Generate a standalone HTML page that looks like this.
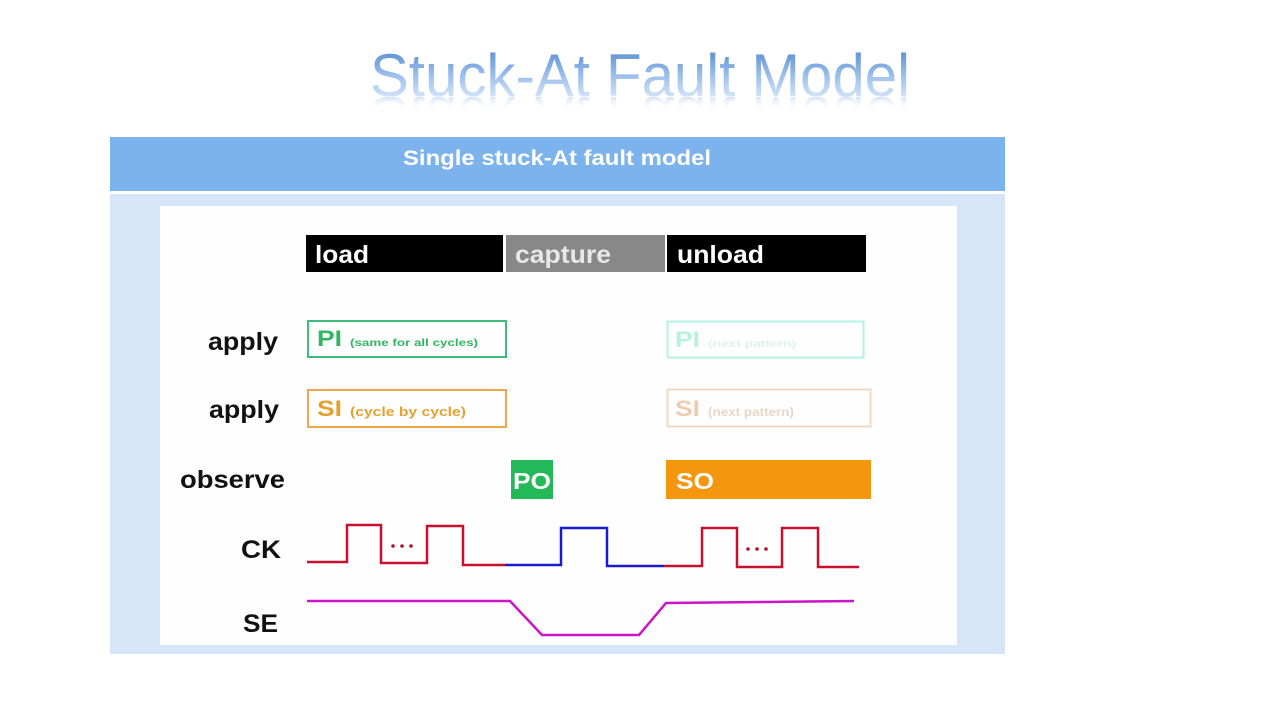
<!DOCTYPE html>
<html>
<head>
<meta charset="utf-8">
<style>
  html, body { margin: 0; padding: 0; background: #ffffff; }
  body { width: 1280px; height: 720px; overflow: hidden; }
  svg { display: block; }
  text { font-family: "Liberation Sans", Arial, sans-serif; }
</style>
</head>
<body>
<svg width="1280" height="720" viewBox="0 0 1280 720" xmlns="http://www.w3.org/2000/svg">
  <defs>
    <linearGradient id="tg" x1="0" y1="50" x2="0" y2="97" gradientUnits="userSpaceOnUse">
      <stop offset="0" stop-color="#5b8fd4"/>
      <stop offset="0.55" stop-color="#9dc0ec"/>
      <stop offset="1" stop-color="#d2e3f7"/>
    </linearGradient>
    <linearGradient id="rg" x1="0" y1="96" x2="0" y2="82" gradientUnits="userSpaceOnUse">
      <stop offset="0" stop-color="#c9dcf3" stop-opacity="0.75"/>
      <stop offset="1" stop-color="#ffffff" stop-opacity="0"/>
    </linearGradient>
    <clipPath id="rc">
      <rect x="340" y="97" width="600" height="15"/>
    </clipPath>
  </defs>

  <rect x="0" y="0" width="1280" height="720" fill="#ffffff"/>

  <!-- Title reflection -->
  <g clip-path="url(#rc)">
    <g transform="translate(0,193) scale(1,-1)">
      <text x="640" y="96" font-size="60" text-anchor="middle" textLength="540" lengthAdjust="spacingAndGlyphs" fill="url(#rg)">Stuck-At Fault Model</text>
    </g>
  </g>
  <!-- Title -->
  <text x="640" y="96" font-size="60" text-anchor="middle" textLength="540" lengthAdjust="spacingAndGlyphs" fill="url(#tg)">Stuck-At Fault Model</text>

  <!-- Header bar -->
  <rect x="110" y="137" width="895" height="54" fill="#7cb3ec"/>
  <text x="557" y="165" font-size="21" font-weight="bold" fill="#ffffff" text-anchor="middle" textLength="308" lengthAdjust="spacingAndGlyphs">Single stuck-At fault model</text>

  <!-- Light panel -->
  <rect x="110" y="194" width="895" height="460" fill="#d6e6f8"/>
  <!-- White inner panel -->
  <rect x="160" y="206" width="797" height="439" fill="#fefefe"/>

  <!-- Phase bars -->
  <rect x="306" y="235" width="197" height="37" fill="#000000"/>
  <rect x="506" y="235" width="159" height="37" fill="#888888"/>
  <rect x="667" y="235" width="199" height="37" fill="#000000"/>
  <text x="315" y="263" font-size="25" font-weight="bold" fill="#ffffff" textLength="54" lengthAdjust="spacingAndGlyphs">load</text>
  <text x="515" y="263" font-size="25" font-weight="bold" fill="#e8e8e8" textLength="96" lengthAdjust="spacingAndGlyphs">capture</text>
  <text x="677" y="263" font-size="25" font-weight="bold" fill="#ffffff" textLength="87" lengthAdjust="spacingAndGlyphs">unload</text>

  <!-- Row labels -->
  <text x="208" y="350" font-size="25" font-weight="bold" fill="#111111" textLength="70" lengthAdjust="spacingAndGlyphs">apply</text>
  <text x="209" y="418" font-size="25" font-weight="bold" fill="#111111" textLength="70" lengthAdjust="spacingAndGlyphs">apply</text>
  <text x="180" y="488" font-size="25" font-weight="bold" fill="#111111" textLength="105" lengthAdjust="spacingAndGlyphs">observe</text>
  <text x="241" y="558" font-size="25" font-weight="bold" fill="#111111" textLength="40" lengthAdjust="spacingAndGlyphs">CK</text>
  <text x="243" y="632" font-size="25" font-weight="bold" fill="#111111" textLength="35" lengthAdjust="spacingAndGlyphs">SE</text>

  <!-- PI box -->
  <rect x="308" y="321" width="198" height="36" fill="none" stroke="#3dbb7a" stroke-width="2"/>
  <text x="317" y="346" font-size="22" font-weight="bold" fill="#2fb760" textLength="25" lengthAdjust="spacingAndGlyphs">PI</text>
  <text x="350" y="346" font-size="10" font-weight="bold" fill="#2fb760" textLength="128" lengthAdjust="spacingAndGlyphs">(same for all cycles)</text>

  <!-- SI box -->
  <rect x="308" y="390" width="198" height="37" fill="none" stroke="#eba84a" stroke-width="2"/>
  <text x="317" y="416" font-size="22" font-weight="bold" fill="#e6a030" textLength="25" lengthAdjust="spacingAndGlyphs">SI</text>
  <text x="350" y="416" font-size="13" font-weight="bold" fill="#e6a030" textLength="116" lengthAdjust="spacingAndGlyphs">(cycle by cycle)</text>

  <!-- Faded PI box -->
  <rect x="667.5" y="321.5" width="196" height="36" fill="none" stroke="#b2f4e2" stroke-width="2"/>
  <text x="675" y="347" font-size="22" font-weight="bold" fill="#b6f2dc" textLength="25" lengthAdjust="spacingAndGlyphs">PI</text>
  <text x="708" y="347" font-size="10" font-weight="bold" fill="#d8f6ec" textLength="88" lengthAdjust="spacingAndGlyphs">(next pattern)</text>

  <!-- Faded SI box -->
  <rect x="667.5" y="389.5" width="203" height="37" fill="none" stroke="#f2d9c2" stroke-width="2"/>
  <text x="675" y="416" font-size="22" font-weight="bold" fill="#eccdb2" textLength="25" lengthAdjust="spacingAndGlyphs">SI</text>
  <text x="708" y="416" font-size="12" font-weight="bold" fill="#ead6c6" textLength="86" lengthAdjust="spacingAndGlyphs">(next pattern)</text>

  <!-- PO -->
  <rect x="511" y="460" width="42" height="39" fill="#23b858"/>
  <text x="513" y="489" font-size="23" font-weight="bold" fill="#ffffff" textLength="38" lengthAdjust="spacingAndGlyphs">PO</text>

  <!-- SO -->
  <rect x="666" y="460" width="205" height="39" fill="#f5960f"/>
  <text x="676" y="489" font-size="23" font-weight="bold" fill="#ffffff" textLength="38" lengthAdjust="spacingAndGlyphs">SO</text>

  <!-- CK waveform -->
  <polyline points="307,562 347,562 347,525 381,525 381,563 427,563 427,526 463,526 463,565 505,565" fill="none" stroke="#c8102e" stroke-width="2.5"/>
  <polyline points="505,565 561,565 561,528 607,528 607,566 664,566" fill="none" stroke="#1a1ad0" stroke-width="2.5"/>
  <polyline points="664,566 702,566 702,528 737,528 737,567 782,567 782,528 818,528 818,567 859,567" fill="none" stroke="#c8102e" stroke-width="2.5"/>
  <!-- dots -->
  <circle cx="393" cy="546" r="1.8" fill="#b0102a"/>
  <circle cx="402" cy="546" r="1.8" fill="#b0102a"/>
  <circle cx="411" cy="546" r="1.8" fill="#b0102a"/>
  <circle cx="748" cy="549" r="1.8" fill="#b0102a"/>
  <circle cx="757" cy="549" r="1.8" fill="#b0102a"/>
  <circle cx="766" cy="549" r="1.8" fill="#b0102a"/>

  <!-- SE waveform -->
  <polyline points="307,601 510,601 542,635 639,635 666,603 854,601" fill="none" stroke="#cc14c8" stroke-width="2.5"/>
</svg>
</body>
</html>
